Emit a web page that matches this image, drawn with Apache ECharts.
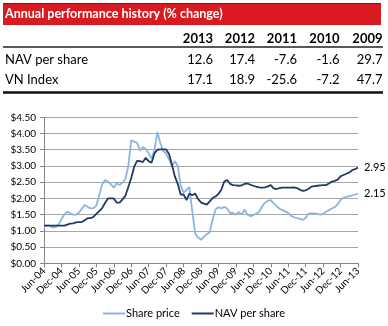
<!DOCTYPE html>
<html>
<head>
<meta charset="utf-8">
<script src="https://cdn.jsdelivr.net/npm/echarts@6/dist/echarts.min.js"></script>
<style>
html,body{margin:0;padding:0;background:#fff;}
#chart{width:388px;height:326px;}
</style>
</head>
<body>
<div id="chart"></div>
<script>
// ---- Table data ----
var tableTitle = 'Annual performance history (% change)';
var years = ['2013', '2012', '2011', '2010', '2009'];
var rowLabels = ['NAV per share', 'VN Index'];
var navPerf = [12.6, 17.4, -7.6, -1.6, 29.7];
var vnPerf = [17.1, 18.9, -25.6, -7.2, 47.7];

// ---- Chart data (monthly, Jun-04 .. Jun-13) ----
var startYear = 2004, startMonth = 5, monthCount = 109;
var seriesNames = ['Share price', 'NAV per share'];
var sharePrice = [
  1.16,1.16,1.16,1.10,1.12,1.20,1.35,1.50,1.59,1.54,1.50,1.50,
  1.56,1.68,1.80,1.74,1.69,1.70,1.78,2.10,2.43,2.57,2.52,2.43,
  2.33,2.47,2.41,2.49,2.60,3.00,3.79,3.75,3.72,3.47,3.58,3.52,
  3.39,3.22,3.50,4.05,3.70,3.46,3.38,3.20,3.00,3.15,3.00,2.40,
  2.18,2.26,2.35,1.60,0.92,0.80,0.72,0.82,0.90,0.95,1.35,1.66,
  1.73,1.69,1.74,1.69,1.55,1.55,1.50,1.58,1.50,1.66,1.50,1.45,
  1.48,1.53,1.59,1.75,1.87,1.93,1.95,1.85,1.76,1.68,1.64,1.60,
  1.55,1.46,1.42,1.39,1.37,1.34,1.40,1.53,1.54,1.54,1.52,1.50,
  1.52,1.59,1.64,1.69,1.73,1.82,1.95,2.02,2.05,2.07,2.09,2.12,
  2.15
];
var navPerShare = [
  1.16,1.16,1.16,1.16,1.16,1.16,1.16,1.16,1.19,1.22,1.23,1.26,
  1.27,1.27,1.33,1.39,1.39,1.43,1.52,1.61,1.70,1.86,2.00,2.00,
  2.00,1.87,1.87,1.97,2.08,2.35,2.63,2.97,3.16,3.15,3.12,3.25,
  3.15,3.10,3.39,3.50,3.51,3.51,3.51,3.37,3.04,2.68,2.45,2.12,
  2.12,1.95,2.15,2.10,2.15,1.98,1.88,1.84,1.81,1.91,2.01,2.06,
  2.14,2.27,2.52,2.57,2.45,2.41,2.40,2.39,2.40,2.45,2.46,2.42,
  2.39,2.36,2.34,2.33,2.34,2.37,2.41,2.31,2.29,2.32,2.33,2.33,
  2.33,2.33,2.34,2.32,2.27,2.23,2.25,2.30,2.36,2.38,2.39,2.40,
  2.41,2.41,2.46,2.52,2.54,2.58,2.68,2.72,2.76,2.80,2.87,2.90,
  2.95
];
var yTicks = {min: 0, max: 4.5, interval: 0.5};

var monthNames = ['Jan','Feb','Mar','Apr','May','Jun','Jul','Aug','Sep','Oct','Nov','Dec'];
var categories = [];
for (var i = 0; i < monthCount; i++) {
  var mi = startMonth + i;
  var y = startYear + Math.floor(mi / 12);
  categories.push(monthNames[mi % 12] + '-' + String(y).slice(2));
}

var FONT = 'Lato, "Open Sans", sans-serif';
var colRight = [213, 255, 297, 339.5, 382.5];
var graphics = [
  {type:'rect', shape:{x:3, y:3, width:378, height:22}, style:{fill:'#da1a21'}},
  {type:'line', shape:{x1:3, y1:3.5, x2:381, y2:3.5}, style:{stroke:'#8a1015', lineWidth:1}},
  {type:'text', x:5, y:14, style:{text:tableTitle, fill:'#fff', font:'bold 12.5px ' + FONT, textVerticalAlign:'middle'}},
  {type:'line', shape:{x1:3, y1:47, x2:383, y2:47}, style:{stroke:'#222', lineWidth:1.5}},
  {type:'line', shape:{x1:3, y1:92.5, x2:383, y2:92.5}, style:{stroke:'#111', lineWidth:2.5}}
];
years.forEach(function (yr, k) {
  graphics.push({type:'text', x:colRight[k], y:38.5, style:{text:yr, fill:'#000', font:'bold 13px ' + FONT, textAlign:'right', textVerticalAlign:'middle'}});
});
[navPerf, vnPerf].forEach(function (row, r) {
  var yy = r === 0 ? 60 : 80;
  graphics.push({type:'text', x:5, y:yy, style:{text:rowLabels[r], fill:'#000', font:'13px ' + FONT, textVerticalAlign:'middle'}});
  row.forEach(function (v, k) {
    graphics.push({type:'text', x:colRight[k], y:yy, style:{text:v.toFixed(1), fill:'#000', font:'13px ' + FONT, textAlign:'right', textVerticalAlign:'middle'}});
  });
});

var chart = echarts.init(document.getElementById('chart'), null, {renderer:'canvas'});
chart.setOption({
  animation: false,
  textStyle: {fontFamily: FONT},
  graphic: graphics,
  grid: {left: 44, right: 30, top: 117.3, bottom: 62.7, containLabel: false},
  legend: {
    bottom: 2, left: 'center', itemWidth: 22, itemHeight: 2, itemGap: 12,
    icon: 'rect',
    textStyle: {fontSize: 11, color: '#000', fontFamily: FONT, padding: [0,0,0,-4]},
    data: seriesNames
  },
  xAxis: {
    type: 'category', data: categories, boundaryGap: false,
    axisLine: {lineStyle: {color: '#868686', width: 1}},
    axisTick: {show: true, interval: 5, length: 4, lineStyle: {color: '#868686'}},
    axisLabel: {interval: 5, rotate: 45, fontSize: 10, color: '#000', margin: 6, fontFamily: FONT},
    splitLine: {show: false}
  },
  yAxis: {
    type: 'value', min: yTicks.min, max: yTicks.max, interval: yTicks.interval,
    axisLine: {show: true, lineStyle: {color: '#868686'}},
    axisTick: {show: true, length: 4, lineStyle: {color: '#868686'}},
    axisLabel: {fontSize: 10, color: '#000', margin: 8, fontFamily: FONT,
      formatter: function (v) { return '$' + v.toFixed(2); }},
    splitLine: {lineStyle: {color: '#a6a6a6', width: 1}}
  },
  series: [
    {
      name: seriesNames[0], type: 'line', data: sharePrice, symbol: 'none',
      lineStyle: {color: '#8db4e2', width: 1.8}, itemStyle: {color: '#8db4e2'},
      endLabel: {show: true, formatter: function (p) { return p.value.toFixed(2); }, color: '#000', fontSize: 11, distance: 6, fontFamily: FONT},
      z: 2
    },
    {
      name: seriesNames[1], type: 'line', data: navPerShare, symbol: 'none',
      lineStyle: {color: '#1f3b63', width: 1.8}, itemStyle: {color: '#1f3b63'},
      endLabel: {show: true, formatter: function (p) { return p.value.toFixed(2); }, color: '#000', fontSize: 11, distance: 6, fontFamily: FONT},
      z: 3
    }
  ]
});
</script>
</body>
</html>
